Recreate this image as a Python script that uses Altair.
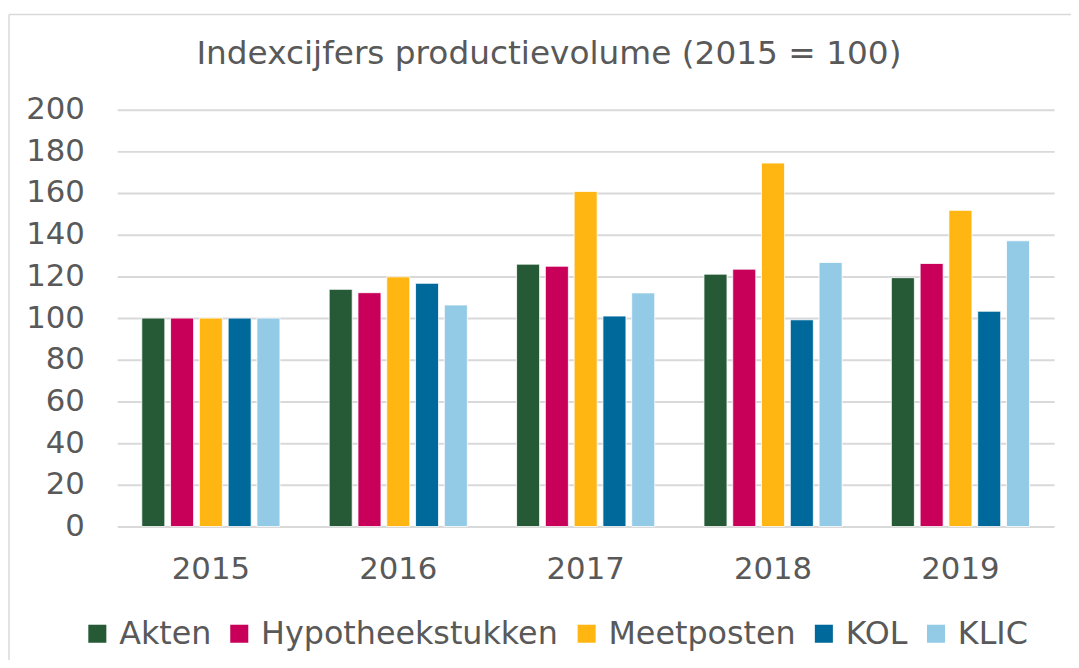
import altair as alt
import pandas as pd

years = ["2015", "2016", "2017", "2018", "2019"]
series = ["Akten", "Hypotheekstukken", "Meetposten", "KOL", "KLIC"]
colors = ["#265A37", "#C9005A", "#FFB612", "#00699B", "#93CAE6"]
akten = [100, 113.8, 125.9, 121.1, 119.4]
hypotheek = [100, 112.2, 124.9, 123.5, 126.2]
meetposten = [100, 119.8, 160.8, 174.4, 151.7]
kol = [100, 116.7, 101.0, 99.2, 103.3]
klic = [100, 106.3, 112.1, 126.7, 137.1]
title_text = "Indexcijfers productievolume (2015 = 100)"

values = [akten, hypotheek, meetposten, kol, klic]
rows = []
for s, vals in zip(series, values):
    for y, v in zip(years, vals):
        rows.append({"Jaar": y, "Reeks": s, "Index": v})
df = pd.DataFrame(rows)

W, H = 944, 420
FONT = "DejaVu Sans"
TXT = "#595959"

bars = alt.Chart(df).mark_bar(stroke="white", strokeWidth=0.8).encode(
    x=alt.X("Jaar:N", sort=years, title=None,
            scale=alt.Scale(paddingInner=0.232, paddingOuter=0.116),
            axis=alt.Axis(labelAngle=0, labelFontSize=31, labelFont=FONT,
                          labelColor=TXT, labelPadding=28, ticks=False,
                          domain=False, grid=False)),
    xOffset=alt.XOffset("Reeks:N", sort=series,
                        scale=alt.Scale(paddingInner=0.2, paddingOuter=0.1)),
    y=alt.Y("Index:Q", title=None,
            scale=alt.Scale(domain=[0, 200], nice=False),
            axis=alt.Axis(values=list(range(0, 201, 20)), labelFontSize=31,
                          labelFont=FONT, labelColor=TXT, labelPadding=33,
                          ticks=False, domain=False, gridColor="#D9D9D9",
                          gridWidth=2)),
    color=alt.Color("Reeks:N", sort=series,
                    scale=alt.Scale(domain=series, range=colors),
                    legend=alt.Legend(title=None, orient="none",
                                      direction="horizontal",
                                      legendX=-36, legendY=512,
                                      symbolType="square", symbolSize=330,
                                      symbolStrokeWidth=0,
                                      labelFontSize=32, labelFont=FONT,
                                      labelColor=TXT, labelOffset=6,
                                      labelLimit=0, columnPadding=12)),
)

title = alt.Chart(pd.DataFrame({"t": [title_text]})).mark_text(
    font=FONT, fontSize=33, color=TXT, baseline="middle", align="center").encode(
    text="t:N", x=alt.value(435), y=alt.value(-56))

left_border = alt.Chart(pd.DataFrame({"a": [0]})).mark_rule(
    color="#D9D9D9", strokeWidth=1.5).encode(
    x=alt.value(-109), y=alt.value(-96), y2=alt.value(560))
top_border = alt.Chart(pd.DataFrame({"a": [0]})).mark_rule(
    color="#D9D9D9", strokeWidth=1.5).encode(
    x=alt.value(-109), x2=alt.value(961), y=alt.value(-96))

chart = alt.layer(bars, title, left_border, top_border).properties(
    width=W, height=H,
    autosize=alt.AutoSizeParams(type="none"),
    padding={"left": 110, "top": 100, "right": 17, "bottom": 132},
).configure_view(stroke=None)

chart.save("out.html", embed_options={"renderer": "svg", "actions": False})
